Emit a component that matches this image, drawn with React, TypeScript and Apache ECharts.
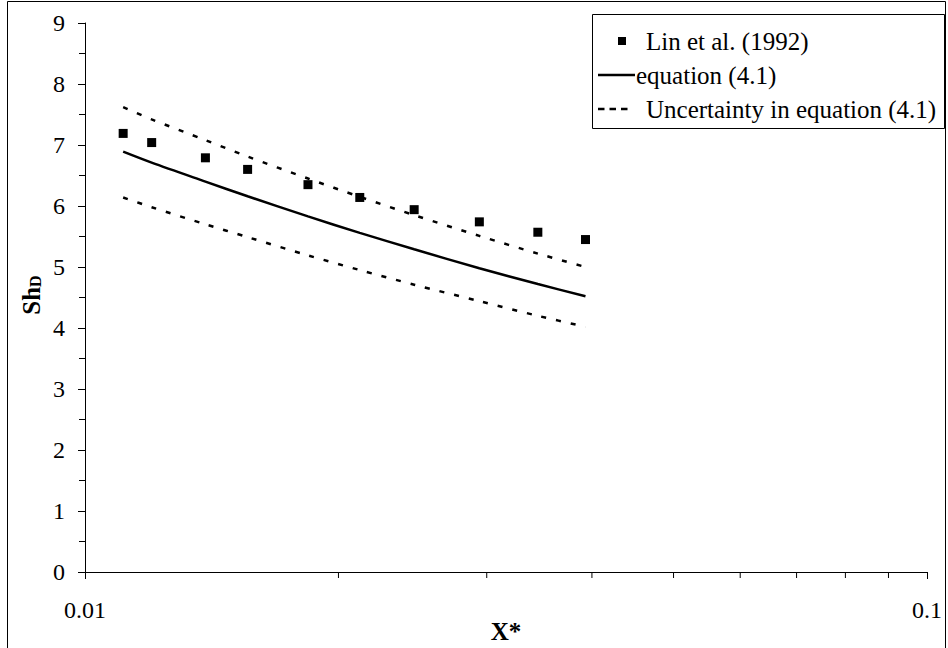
import React, { useEffect, useRef } from "react";
import * as echarts from "echarts";

// X* values (log axis) shared by the data and the curves
const xValues = [0.0111, 0.012, 0.0139, 0.0156, 0.0184, 0.0212, 0.0246, 0.0294, 0.0345, 0.0393];
// Lin et al. (1992) measured Sh_D
const linData = [7.19, 7.04, 6.79, 6.6, 6.35, 6.14, 5.94, 5.74, 5.57, 5.45];
// equation (4.1)
const eqData = [6.89, 6.71, 6.4, 6.16, 5.83, 5.56, 5.29, 4.98, 4.72, 4.52];
// uncertainty band of equation (4.1)
const upperData = [7.62, 7.42, 7.08, 6.81, 6.45, 6.15, 5.85, 5.51, 5.22, 5.0];
const lowerData = [6.14, 5.98, 5.7, 5.49, 5.19, 4.95, 4.71, 4.44, 4.2, 4.02];
// minor ticks on the log x axis
const xMinorTicks = [0.02, 0.03, 0.04, 0.05, 0.06, 0.07, 0.08, 0.09];
const legendNames = ["Lin et al. (1992)", "equation (4.1)", "Uncertainty in equation (4.1)"];

const zip = (xs: number[], ys: number[]) => xs.map((x, i) => [x, ys[i]]);

export default function App() {
  const ref = useRef<HTMLDivElement>(null);
  useEffect(() => {
    const chart = echarts.init(ref.current!, null, { renderer: "svg" });
    const ff = "Liberation Serif";
    const axisText = { color: "#000", fontFamily: ff, fontSize: 24 };
    const legRows = [41, 75, 109];
    chart.setOption({
      animation: false,
      backgroundColor: "#fff",
      textStyle: { fontFamily: ff },
      grid: { left: 85, top: 23, right: 21, bottom: 76 },
      xAxis: {
        type: "log",
        logBase: 10,
        min: 0.01,
        max: 0.1,
        axisLine: { lineStyle: { color: "#000", width: 1 } },
        axisTick: { show: true, length: 7, lineStyle: { color: "#000" } },
        splitLine: { show: false },
        axisLabel: {
          ...axisText,
          margin: 26,
          showMinLabel: true,
          showMaxLabel: true,
          formatter: (v: number) => String(+v.toPrecision(6)),
        },
      },
      yAxis: {
        type: "value",
        min: 0,
        max: 9,
        interval: 1,
        axisLine: { show: true, lineStyle: { color: "#000", width: 1 } },
        axisTick: { show: true, length: 7, lineStyle: { color: "#000" } },
        minorTick: { show: true, splitNumber: 2, length: 6, lineStyle: { color: "#000" } },
        splitLine: { show: false },
        axisLabel: { ...axisText, margin: 20 },
      },
      series: [
        {
          name: legendNames[0],
          type: "scatter",
          data: zip(xValues, linData),
          symbol: "rect",
          symbolSize: 9,
          itemStyle: { color: "#000", opacity: 1 },
          z: 5,
        },
        {
          name: legendNames[1],
          type: "line",
          data: zip(xValues, eqData),
          smooth: 0.3,
          symbol: "none",
          lineStyle: { color: "#000", width: 2.5 },
        },
        {
          name: legendNames[2],
          type: "line",
          data: zip(xValues, upperData),
          smooth: 0.3,
          symbol: "none",
          lineStyle: { color: "#000", width: 2.5, type: [5, 10] },
        },
        {
          name: legendNames[2] + " lower",
          type: "line",
          data: zip(xValues, lowerData),
          smooth: 0.3,
          symbol: "none",
          lineStyle: { color: "#000", width: 2.5, type: [5, 10] },
        },
        {
          type: "custom",
          clip: false,
          silent: true,
          data: xMinorTicks.map((v) => [v, 0]),
          renderItem: (params: any, api: any) => {
            const p = api.coord([api.value(0), 0]);
            return {
              type: "line",
              shape: { x1: p[0], y1: p[1], x2: p[0], y2: p[1] + 6 },
              style: { stroke: "#000", lineWidth: 1 },
            };
          },
        },
      ],
      graphic: [
        {
          type: "rect",
          shape: { x: 7.5, y: 1.5, width: 938, height: 700 },
          style: { fill: "none", stroke: "#000", lineWidth: 1 },
          z: 0,
          silent: true,
        },
        {
          type: "rect",
          shape: { x: 592.5, y: 14.5, width: 352, height: 114 },
          style: { fill: "#fff", stroke: "#000", lineWidth: 1 },
          z: 10,
        },
        {
          type: "rect",
          shape: { x: 618, y: legRows[0] - 4, width: 8, height: 8 },
          style: { fill: "#000" },
          z: 11,
        },
        {
          type: "line",
          shape: { x1: 598, y1: legRows[1], x2: 635, y2: legRows[1] },
          style: { stroke: "#000", lineWidth: 2.5 },
          z: 11,
        },
        {
          type: "line",
          shape: { x1: 598, y1: legRows[2], x2: 631, y2: legRows[2] },
          style: { stroke: "#000", lineWidth: 2.5, lineDash: [6.5, 5] },
          z: 11,
        },
        ...[646, 636, 646].map((x, i) => ({
          type: "text",
          x,
          y: legRows[i],
          z: 11,
          style: {
            text: legendNames[i],
            fill: "#000",
            fontFamily: ff,
            fontSize: 25,
            verticalAlign: "middle",
            align: "left",
          },
        })),
        {
          type: "text",
          x: 506,
          y: 631,
          style: {
            text: "X*",
            fill: "#000",
            fontFamily: ff,
            fontSize: 25,
            fontWeight: "bold",
            align: "center",
            verticalAlign: "middle",
          },
        },
        {
          type: "text",
          x: 31,
          y: 295,
          rotation: Math.PI / 2,
          style: {
            text: "{a|Sh}{b|D}",
            fontFamily: ff,
            align: "center",
            verticalAlign: "middle",
            rich: {
              a: { fill: "#000", fontFamily: ff, fontSize: 25, fontWeight: "bold", lineHeight: 25, verticalAlign: "top" },
              b: {
                fill: "#000",
                fontFamily: ff,
                fontSize: 16,
                fontWeight: "bold",
                lineHeight: 16,
                padding: [22, 0, 0, 0],
                verticalAlign: "bottom",
              },
            },
          },
        },
      ],
    });
    return () => chart.dispose();
  }, []);
  return (
    <div
      ref={ref}
      style={{ position: "absolute", left: 0, top: 0, width: 948, height: 648, background: "#fff" }}
    />
  );
}
